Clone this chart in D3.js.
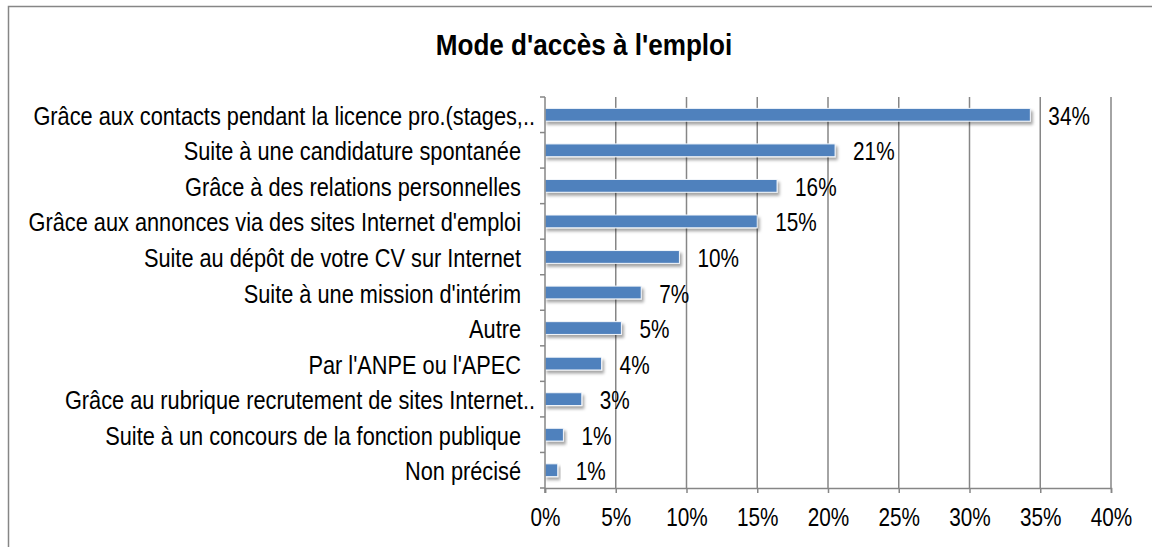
<!DOCTYPE html>
<html>
<head>
<meta charset="UTF-8">
<title>Mode d'accès à l'emploi</title>
<script src="https://cdn.jsdelivr.net/npm/d3@7"></script>
<style>
  body { margin: 0; background: #fff; }
  text { font-family: "Liberation Sans Narrow", "Arial Narrow", "Liberation Sans", sans-serif; fill: #000; }
</style>
</head>
<body>
<script>
// data
var categories = [
  "Grâce aux contacts pendant la licence pro.(stages,..",
  "Suite à une candidature spontanée",
  "Grâce à des relations personnelles",
  "Grâce aux annonces via des sites Internet d'emploi",
  "Suite au dépôt de votre CV sur Internet",
  "Suite à une mission d'intérim",
  "Autre",
  "Par l'ANPE ou l'APEC",
  "Grâce au rubrique recrutement de sites Internet..",
  "Suite à un concours de la fonction publique",
  "Non précisé"
];
var values = [34.3, 20.5, 16.4, 15.0, 9.5, 6.8, 5.4, 4.0, 2.6, 1.3, 0.9];
var valueLabels = ["34%", "21%", "16%", "15%", "10%", "7%", "5%", "4%", "3%", "1%", "1%"];
var xTicks = [0, 5, 10, 15, 20, 25, 30, 35, 40];

var W = 1152, H = 547;
var margin = {top: 97, right: 41, bottom: 59, left: 545};
var width = W - margin.left - margin.right,
    height = H - margin.top - margin.bottom;

// no narrow font installed: squeeze the regular sans horizontally
var sqText = 0.87, sqNum = 0.83;

var svg = d3.select("body").append("svg")
  .attr("width", W)
  .attr("height", H);

// shadow for the bars
var defs = svg.append("defs");
defs.append("filter")
    .attr("id", "shadow")
    .attr("x", "-10%").attr("y", "-50%")
    .attr("width", "130%").attr("height", "250%")
  .append("feDropShadow")
    .attr("dx", 2).attr("dy", 3)
    .attr("stdDeviation", 1.8)
    .attr("flood-color", "#000")
    .attr("flood-opacity", 0.35);

// chart frame (only left and top edges are visible)
svg.append("path")
  .attr("d", "M8.5," + H + "V6.5H" + W)
  .attr("fill", "none")
  .attr("stroke", "#868686")
  .attr("stroke-width", 1.5);

// title
svg.append("text")
  .attr("transform", "translate(584,55) scale(0.9,1)")
  .attr("text-anchor", "middle")
  .style("font-size", "29px")
  .style("font-weight", "bold")
  .text("Mode d'accès à l'emploi");

var g = svg.append("g")
  .attr("transform", "translate(" + margin.left + "," + margin.top + ")");

var x = d3.scaleLinear().domain([0, 40]).range([0, width]);
var y = d3.scaleBand().domain(categories).range([0, height]).paddingInner(0.64).paddingOuter(0.32);
var yEdges = d3.scaleLinear().domain([0, categories.length]).range([0, height]);

// vertical gridlines
g.selectAll(".grid")
  .data(xTicks.slice(1))
  .enter().append("line")
    .attr("class", "grid")
    .attr("x1", function(d) { return x(d); })
    .attr("x2", function(d) { return x(d); })
    .attr("y1", 0)
    .attr("y2", height)
    .attr("stroke", "#868686")
    .attr("stroke-width", 1.5);

// bars
g.selectAll(".bar")
  .data(values)
  .enter().append("rect")
    .attr("class", "bar")
    .attr("x", 0)
    .attr("y", function(d, i) { return y(categories[i]); })
    .attr("width", function(d) { return x(d); })
    .attr("height", y.bandwidth())
    .attr("fill", "#4f81bd")
    .attr("stroke", "#f4f7fb")
    .attr("stroke-width", 1)
    .attr("filter", "url(#shadow)");

// value labels
g.selectAll(".val")
  .data(values)
  .enter().append("text")
    .attr("class", "val")
    .attr("transform", function(d, i) {
      return "translate(" + (x(d) + 18) + "," + (y(categories[i]) + y.bandwidth() / 2 + 1) + ") scale(" + sqNum + ",1)";
    })
    .attr("dy", "0.36em")
    .style("font-size", "25px")
    .text(function(d, i) { return valueLabels[i]; });

// X axis
var xAxis = g.append("g")
  .attr("transform", "translate(0," + height + ")")
  .call(d3.axisBottom(x).tickValues(xTicks).tickFormat(function(d) { return d + "%"; })
    .tickSize(5).tickPadding(15));
xAxis.select(".domain").attr("stroke", "#868686").attr("stroke-width", 1.5);
xAxis.selectAll(".tick line").attr("stroke", "#868686").attr("stroke-width", 1.5);
xAxis.selectAll("text")
  .style("font-size", "25px")
  .attr("fill", "#000")
  .attr("transform", "scale(" + sqNum + ",1)");

// Y axis (line + ticks at category boundaries)
g.append("line")
  .attr("x1", 0).attr("x2", 0)
  .attr("y1", 0).attr("y2", height + 5)
  .attr("stroke", "#868686")
  .attr("stroke-width", 1.5);
g.selectAll(".ytick")
  .data(d3.range(categories.length + 1))
  .enter().append("line")
    .attr("class", "ytick")
    .attr("x1", -5).attr("x2", 0)
    .attr("y1", function(d) { return yEdges(d); })
    .attr("y2", function(d) { return yEdges(d); })
    .attr("stroke", "#868686")
    .attr("stroke-width", 1.5);

// category labels
g.selectAll(".cat")
  .data(categories)
  .enter().append("text")
    .attr("class", "cat")
    .attr("transform", function(d) {
      var tx = /\.\.$/.test(d) ? -10 : -24;
      return "translate(" + tx + "," + (y(d) + y.bandwidth() / 2 + 1) + ") scale(" + sqText + ",1)";
    })
    .attr("dy", "0.36em")
    .attr("text-anchor", "end")
    .style("font-size", "25px")
    .text(function(d) { return d; });
</script>
</body>
</html>
